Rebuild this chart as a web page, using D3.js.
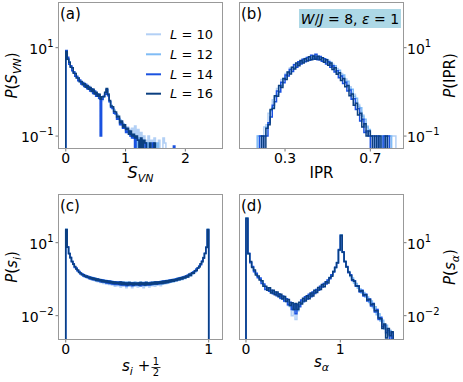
<!DOCTYPE html>
<html><head><meta charset="utf-8">
<script src="https://cdn.jsdelivr.net/npm/d3@7"></script>
<style>body{margin:0;background:#fff} text{font-family:"DejaVu Sans",sans-serif;fill:#000}</style>
</head><body><svg id="c" width="463" height="382"></svg>
<script>
// ---------- data ----------
const sizes = ["10","12","14","16"];
const seriesColors = ["#b3d0f5","#80bcf5","#1a52e0","#0b3f80"];

// (a) P(S_VN), bins of 0.025 starting at 0
const aStart = 0, aWidth = 0.025;
const a10 = [8.3,5.6,4.4,3.8,3.1,2.8,2.3,2.2,1.85,1.8,1.55,1.55,1.36,1.4,1.22,1.26,1.06,1.12,0.92,0.98,0.8,0.86,0.7,0.74,0.64,0.8,0.88,1.12,0.84,0.62,0.44,0.43,0.34,0.33,0.25,0.26,0.19,0.21,0.15,0.18,0.13,0.16,0.12,0.14,0.15,0.1,0.17,0.09,0.14,0.08,0.12,0,0.1,0.08,0,0.1,0,0.08,0,0.09,0,0,0.08,0,0,0.09,0.07,0];
const a12 = [8.0,5.4,4.8,3.7,3.45,2.75,2.6,2.1,2.08,1.72,1.7,1.46,1.52,1.3,1.36,1.16,1.22,1.04,1.06,0.92,0.95,0.8,0.84,0.7,0.76,0.78,0.94,1.15,0.9,0.6,0.5,0.42,0.39,0.31,0.3,0.24,0.23,0.18,0.19,0.15,0.15,0.12,0.13,0.1,0.11,0.09,0.1,0,0.08,0.09,0,0.08,0,0,0.07,0,0.07,0,0,0,0,0.07,0];
const a14 = [8.6,6.1,4.2,3.9,3.0,2.85,2.25,2.25,1.78,1.85,1.5,1.62,1.32,1.48,1.18,1.32,1.05,1.18,0.92,1.04,0.8,0.9,0.72,0.1,0.68,0.8,0.88,1.12,0.82,0.6,0.45,0.42,0.33,0.32,0.24,0.25,0.18,0.2,0.15,0.16,0.12,0.13,0.11,0.1,0.09,0.1,0,0.09,0.08,0,0.08,0,0,0.07,0,0,0,0,0.07,0,0,0,0,0,0,0,0,0,0,0,0,0,0.06,0];
const a16 = [8.2,5.5,4.7,3.6,3.5,2.65,2.6,2.05,2.05,1.7,1.72,1.45,1.55,1.28,1.4,1.15,1.25,1.02,1.15,0.9,0.98,0.8,0.88,0.68,0.78,0.78,0.98,1.2,0.88,0.64,0.48,0.46,0.36,0.35,0.27,0.28,0.2,0.22,0.16,0.18,0.14,0.15,0.11,0.13,0.1,0.11,0.09,0.1,0.08,0,0.09,0,0.08,0.07,0,0,0.07,0,0,0.07,0];

// (b) P(IPR), bins of 0.01 starting at 0.16
const bStart = 0.16, bWidth = 0.01;
const b10 = [0,0.1,0.1,0.1,0.16,0.18,0.33,0.38,0.66,0.76,1.2,1.28,1.9,1.95,2.6,2.6,3.45,3.3,4.2,3.95,4.8,4.5,5.4,4.9,5.9,5.3,6.1,5.5,6.2,5.5,5.9,5.2,5.6,4.7,5.1,4.0,4.2,3.3,3.4,2.6,2.6,1.95,1.95,1.4,1.3,0.95,0.88,0.58,0.52,0.35,0.3,0.19,0.17,0.12,0.1,0.1,0,0.1,0.1,0,0.1,0,0,0.1,0.1,0.1];
const b12 = [0,0.1,0,0.1,0.1,0.16,0.2,0.38,0.45,0.8,0.88,1.38,1.38,2.0,2.05,2.8,2.75,3.6,3.5,4.3,4.2,5.0,4.8,5.7,5.2,6.1,5.6,6.4,5.8,6.3,5.5,5.9,5.0,5.4,4.5,4.7,3.8,3.9,3.0,3.1,2.3,2.4,1.75,1.75,1.2,1.15,0.8,0.72,0.47,0.44,0.28,0.24,0.16,0.14,0.1,0.1,0,0.1,0,0.1,0,0.1,0,0.1,0,0];
const b14 = [0,0,0.1,0,0.1,0.1,0.2,0.27,0.5,0.6,1.05,1.0,1.65,1.6,2.4,2.3,3.2,2.9,4.1,3.6,4.8,4.3,5.5,4.8,6.0,5.2,6.7,5.5,7.1,5.3,6.3,4.9,5.6,4.3,4.8,3.6,3.9,2.8,3.0,2.1,2.3,1.55,1.65,1.05,1.1,0.68,0.7,0.4,0.42,0.22,0.24,0.12,0.13,0.1,0,0.1,0,0.1,0,0,0.1,0,0.1,0,0,0];
const b16 = [0,0,0,0.1,0,0.15,0.18,0.4,0.42,0.82,0.8,1.4,1.25,2.0,1.9,2.8,2.55,3.6,3.3,4.5,3.9,5.1,4.5,5.6,5.0,6.2,5.3,6.5,5.5,6.4,5.3,5.9,4.7,5.3,4.0,4.5,3.2,3.5,2.5,2.7,1.8,2.0,1.3,1.4,0.82,0.9,0.5,0.55,0.3,0.33,0.16,0.19,0.1,0.13,0.1,0,0.1,0,0.1,0,0,0.1,0,0,0,0];

// (c) P(s_i), bins of 0.01 starting at 0
const cStart = 0, cWidth = 0.01;
const c10 = [34,6.6,3.6,2.4,1.7,1.3,1.0,0.84,0.7,0.63,0.52,0.52,0.42,0.45,0.37,0.41,0.33,0.37,0.3,0.34,0.27,0.32,0.25,0.3,0.23,0.29,0.21,0.27,0.2,0.26,0.19,0.25,0.18,0.24,0.16,0.24,0.17,0.23,0.15,0.23,0.16,0.22,0.14,0.22,0.16,0.21,0.14,0.22,0.16,0.21,0.15,0.22,0.16,0.21,0.14,0.22,0.17,0.21,0.15,0.22,0.17,0.23,0.16,0.23,0.18,0.24,0.17,0.25,0.2,0.26,0.21,0.27,0.23,0.29,0.24,0.3,0.26,0.32,0.28,0.34,0.31,0.37,0.34,0.4,0.38,0.45,0.43,0.51,0.51,0.61,0.64,0.79,0.86,1.06,1.26,1.7,2.35,3.6,6.4,34];
const c12 = [36,6.3,3.7,2.3,1.75,1.28,1.02,0.83,0.73,0.61,0.58,0.47,0.49,0.4,0.44,0.36,0.4,0.33,0.37,0.3,0.35,0.27,0.33,0.26,0.31,0.24,0.29,0.23,0.28,0.22,0.27,0.21,0.26,0.2,0.25,0.2,0.24,0.19,0.25,0.18,0.24,0.18,0.24,0.17,0.24,0.18,0.23,0.17,0.24,0.18,0.23,0.17,0.24,0.18,0.23,0.17,0.24,0.18,0.23,0.18,0.24,0.19,0.25,0.19,0.25,0.2,0.26,0.2,0.27,0.21,0.28,0.22,0.29,0.24,0.31,0.25,0.32,0.27,0.35,0.29,0.37,0.31,0.4,0.34,0.44,0.38,0.51,0.44,0.59,0.54,0.72,0.7,0.94,1.0,1.35,1.65,2.5,3.5,6.7,36];
const c14 = [33,6.8,3.5,2.5,1.65,1.35,0.96,0.9,0.68,0.66,0.51,0.53,0.43,0.46,0.38,0.42,0.34,0.38,0.31,0.35,0.29,0.33,0.27,0.31,0.25,0.3,0.24,0.28,0.22,0.27,0.21,0.26,0.2,0.25,0.19,0.24,0.19,0.24,0.18,0.23,0.18,0.22,0.17,0.22,0.18,0.22,0.17,0.22,0.18,0.21,0.18,0.22,0.17,0.22,0.18,0.23,0.18,0.22,0.18,0.23,0.19,0.23,0.2,0.24,0.2,0.25,0.21,0.26,0.22,0.27,0.23,0.28,0.24,0.3,0.26,0.31,0.28,0.33,0.3,0.35,0.33,0.38,0.36,0.42,0.4,0.47,0.46,0.54,0.54,0.64,0.66,0.82,0.88,1.1,1.25,1.75,2.3,3.7,6.3,33];
const c16 = [35,6.5,3.6,2.4,1.7,1.3,1.05,0.82,0.75,0.6,0.57,0.48,0.48,0.41,0.43,0.37,0.39,0.33,0.36,0.31,0.34,0.28,0.32,0.27,0.3,0.25,0.28,0.24,0.27,0.23,0.26,0.22,0.25,0.21,0.24,0.21,0.23,0.2,0.24,0.19,0.23,0.19,0.22,0.18,0.23,0.19,0.22,0.18,0.22,0.19,0.22,0.18,0.23,0.19,0.22,0.18,0.23,0.19,0.22,0.19,0.23,0.2,0.24,0.2,0.24,0.21,0.25,0.21,0.26,0.22,0.27,0.23,0.28,0.25,0.3,0.26,0.31,0.28,0.34,0.3,0.36,0.32,0.39,0.35,0.43,0.39,0.5,0.45,0.58,0.55,0.7,0.72,0.92,1.02,1.35,1.65,2.4,3.6,6.5,35];

// (d) P(s_alpha), bins of 0.02 starting at 0
const dStart = 0, dWidth = 0.02;
const d10 = [98,3.6,1.55,1.02,0.68,0.51,0.39,0.33,0.24,0.185,0.13,0.135,0.105,0.105,0.082,0.093,0.068,0.074,0.05,0.062,0.038,0.048,0.026,0.033,0.01,0.024,0.007,0.021,0.022,0.037,0.036,0.054,0.048,0.07,0.064,0.09,0.088,0.118,0.115,0.158,0.16,0.21,0.21,0.29,0.35,0.48,0.64,0.96,1.5,5,20,4.1,1.7,1.02,0.61,0.46,0.31,0.27,0.18,0.17,0.11,0.11,0.078,0.078,0.05,0.05,0.034,0.032,0.02,0.018,0.011,0.009,0.0055,0.0045,0.0028,0.0022,0.0025,0.0012];
const d12 = [105,3.4,1.65,0.98,0.72,0.49,0.41,0.31,0.26,0.17,0.15,0.12,0.13,0.09,0.1,0.078,0.088,0.062,0.068,0.05,0.055,0.038,0.04,0.024,0.03,0.017,0.03,0.016,0.034,0.033,0.05,0.045,0.064,0.058,0.082,0.075,0.108,0.1,0.14,0.135,0.18,0.185,0.235,0.26,0.38,0.44,0.67,0.93,1.55,4.8,21,3.9,1.75,0.98,0.66,0.41,0.35,0.22,0.21,0.135,0.125,0.085,0.09,0.058,0.058,0.035,0.04,0.021,0.023,0.011,0.012,0.006,0.0065,0.0028,0.004,0.0017,0.0024,0.0015];
const d14 = [95,3.7,1.5,1.05,0.64,0.55,0.36,0.35,0.21,0.2,0.12,0.14,0.1,0.11,0.08,0.095,0.066,0.08,0.052,0.065,0.04,0.05,0.028,0.036,0.018,0.03,0.012,0.028,0.024,0.044,0.038,0.06,0.048,0.075,0.06,0.095,0.082,0.12,0.11,0.16,0.15,0.21,0.2,0.29,0.33,0.48,0.62,0.98,1.45,5.2,19,4.2,1.65,1.05,0.58,0.48,0.28,0.27,0.16,0.17,0.095,0.11,0.065,0.075,0.04,0.048,0.025,0.032,0.014,0.018,0.007,0.0085,0.0035,0.004,0.002,0.0025,0.001,0.002];
const d16 = [100,3.5,1.7,0.95,0.75,0.47,0.43,0.29,0.27,0.16,0.16,0.11,0.14,0.085,0.11,0.072,0.094,0.06,0.075,0.048,0.062,0.038,0.046,0.026,0.034,0.018,0.032,0.018,0.036,0.03,0.052,0.04,0.066,0.05,0.085,0.065,0.112,0.09,0.145,0.12,0.19,0.155,0.25,0.22,0.36,0.42,0.65,0.95,1.5,5,20,4,1.7,1.0,0.62,0.45,0.3,0.26,0.17,0.16,0.1,0.105,0.07,0.072,0.044,0.046,0.028,0.03,0.016,0.016,0.008,0.0075,0.003,0.0045,0.0012,0.003,0.0015,0.0022];

// ticks
const aXTicks = [0,1,2], bXTicks = [0.3,0.7], cXTicks = [0,1], dXTicks = [0,1];
const abYExp = [1,-1], cdYExp = [1,-2];

// ---------- drawing ----------
const svg = d3.select("#c");

const panels = [
  {id:"a", box:[58,2,223,149], xdom:[-0.13,2.63], ydom:[0.051,108], xt:aXTicks, xf:d=>String(d), yt:abYExp, side:"left",  start:aStart, w:aWidth, data:[a10,a12,a14,a16]},
  {id:"b", box:[239,2,404,149], xdom:[0.084,0.858], ydom:[0.051,108], xt:bXTicks, xf:d=>d.toFixed(1), yt:abYExp, side:"right", start:bStart, w:bWidth, data:[b10,b12,b14,b16]},
  {id:"c", box:[58,194,223,340], xdom:[-0.054,1.1], ydom:[0.001,1000], xt:cXTicks, xf:d=>String(d), yt:cdYExp, side:"left",  start:cStart, w:cWidth, data:[c10,c12,c14,c16]},
  {id:"d", box:[239,194,404,340], xdom:[-0.074,1.675], ydom:[0.001,1000], xt:dXTicks, xf:d=>String(d), yt:cdYExp, side:"right", start:dStart, w:dWidth, data:[d10,d12,d14,d16]}
];

const defs = svg.append("defs");
const line = d3.line();

panels.forEach(p => {
  const [x0,y0,x1,y1] = p.box;
  const xs = d3.scaleLinear().domain(p.xdom).range([x0,x1]);
  const ys = d3.scaleLog().domain(p.ydom).range([y1,y0]);
  defs.append("clipPath").attr("id","clip-"+p.id)
    .append("rect").attr("x",x0).attr("y",y0).attr("width",x1-x0).attr("height",y1-y0);
  const g = svg.append("g").attr("clip-path","url(#clip-"+p.id+")");
  const base = y1 + 30;
  const yv = v => v > 0 ? ys(v) : base;
  p.data.forEach((vals, si) => {
    const pts = [[xs(p.start), base]];
    vals.forEach((v,i) => {
      pts.push([xs(p.start + i*p.w), yv(v)]);
      pts.push([xs(p.start + (i+1)*p.w), yv(v)]);
    });
    pts.push([xs(p.start + vals.length*p.w), base]);
    g.append("path").attr("d", line(pts)).attr("fill","none")
      .attr("stroke", seriesColors[si]).attr("stroke-width",1.5).attr("stroke-linejoin","miter");
  });
  // frame
  svg.append("rect").attr("x",x0+0.5).attr("y",y0+0.5).attr("width",x1-x0-1).attr("height",y1-y0-1)
    .attr("fill","none").attr("stroke","#999").attr("stroke-width",1);
  // x ticks
  p.xt.forEach(t => {
    const X = xs(t);
    svg.append("line").attr("x1",X).attr("x2",X).attr("y1",y1).attr("y2",y1+2.5).attr("stroke","#555").attr("stroke-width",0.8);
    svg.append("text").attr("x",X).attr("y",y1+14).attr("text-anchor","middle")
      .attr("font-size",14).text(p.xf(t));
  });
  // y ticks
  p.yt.forEach(e => {
    const Y = ys(Math.pow(10,e));
    const lx = p.side==="left" ? x0 : x1;
    const dir = p.side==="left" ? -1 : 1;
    svg.append("line").attr("x1",lx).attr("x2",lx+dir*2.5).attr("y1",Y).attr("y2",Y).attr("stroke","#555").attr("stroke-width",0.8);
    const t = svg.append("text").attr("y",Y+6).attr("font-size",14)
      .attr("x", p.side==="left" ? x0-4.5 : x1+3)
      .attr("text-anchor", p.side==="left" ? "end" : "start");
    t.append("tspan").text("10");
    t.append("tspan").attr("dy",-7).attr("font-size",10).text(e<0 ? "\u2212"+(-e) : String(e));
  });
  // panel letter
  svg.append("text").attr("x", x0+2).attr("y", y0+16.5).attr("font-size",15).text("("+p.id+")");
});

// ---------- axis labels ----------
function ylab(x, y, parts){
  const t = svg.append("text").attr("transform",`translate(${x},${y}) rotate(-90)`)
    .attr("text-anchor","middle").attr("font-size",15);
  parts.forEach(pt => {
    const s = t.append("tspan").text(pt.t);
    if (pt.i) s.attr("font-style","italic");
    if (pt.dy) s.attr("dy",pt.dy);
    if (pt.fs) s.attr("font-size",pt.fs);
  });
}
ylab(17, 75.5, [{t:"P",i:1},{t:"("},{t:"S",i:1},{t:"VN",i:1,dy:4,fs:11},{t:")",dy:-4}]);
ylab(455, 75.5, [{t:"P",i:1},{t:"(IPR)"}]);
ylab(17, 267, [{t:"P",i:1},{t:"("},{t:"s",i:1},{t:"i",i:1,dy:4,fs:11},{t:")",dy:-4}]);
ylab(455, 267, [{t:"P",i:1},{t:"("},{t:"s",i:1},{t:"\u03b1",i:1,dy:4,fs:11},{t:")",dy:-4}]);

// x labels
{
  const t = svg.append("text").attr("x",140.5).attr("y",178).attr("text-anchor","middle").attr("font-size",16);
  t.append("tspan").attr("font-style","italic").text("S");
  t.append("tspan").attr("font-style","italic").attr("font-size",11).attr("dy",4).text("VN");
}
svg.append("text").attr("x",321.5).attr("y",178).attr("text-anchor","middle").attr("font-size",15).text("IPR");
{
  const t = svg.append("text").attr("x",122).attr("y",371).attr("font-size",15);
  t.append("tspan").attr("font-style","italic").text("s");
  t.append("tspan").attr("font-style","italic").attr("font-size",11).attr("dy",4).text("i");
  t.append("tspan").attr("dy",-4).text(" + ");
  svg.append("text").attr("x",156).attr("y",365).attr("text-anchor","middle").attr("font-size",10).text("1");
  svg.append("line").attr("x1",151.5).attr("x2",160.5).attr("y1",367.5).attr("y2",367.5).attr("stroke","#000").attr("stroke-width",0.8);
  svg.append("text").attr("x",156).attr("y",376).attr("text-anchor","middle").attr("font-size",10).text("2");
}
{
  const t = svg.append("text").attr("x",321.5).attr("y",367).attr("text-anchor","middle").attr("font-size",15);
  t.append("tspan").attr("font-style","italic").text("s");
  t.append("tspan").attr("font-style","italic").attr("font-size",11).attr("dy",4).text("\u03b1");
}

// ---------- legend (a) ----------
const legRows = [34.3,54.3,74.3,93.7];
sizes.forEach((L,i) => {
  svg.append("line").attr("x1",146).attr("x2",161).attr("y1",legRows[i]).attr("y2",legRows[i])
    .attr("stroke",seriesColors[i]).attr("stroke-width",2);
  const t = svg.append("text").attr("x",170).attr("y",legRows[i]+4.7).attr("font-size",13);
  t.append("tspan").attr("font-style","italic").text("L");
  t.append("tspan").text(" = "+L);
});

// ---------- parameter box (b) ----------
svg.append("rect").attr("x",299).attr("y",9).attr("width",102).attr("height",19).attr("fill","#add8e6");
{
  const t = svg.append("text").attr("x",350).attr("y",23.5).attr("text-anchor","middle").attr("font-size",14);
  t.append("tspan").attr("font-style","italic").text("W");
  t.append("tspan").text("/");
  t.append("tspan").attr("font-style","italic").text("J");
  t.append("tspan").text(" = 8,  ");
  t.append("tspan").attr("font-style","italic").text("\u03b5");
  t.append("tspan").text(" = 1");
}
</script></body></html>
